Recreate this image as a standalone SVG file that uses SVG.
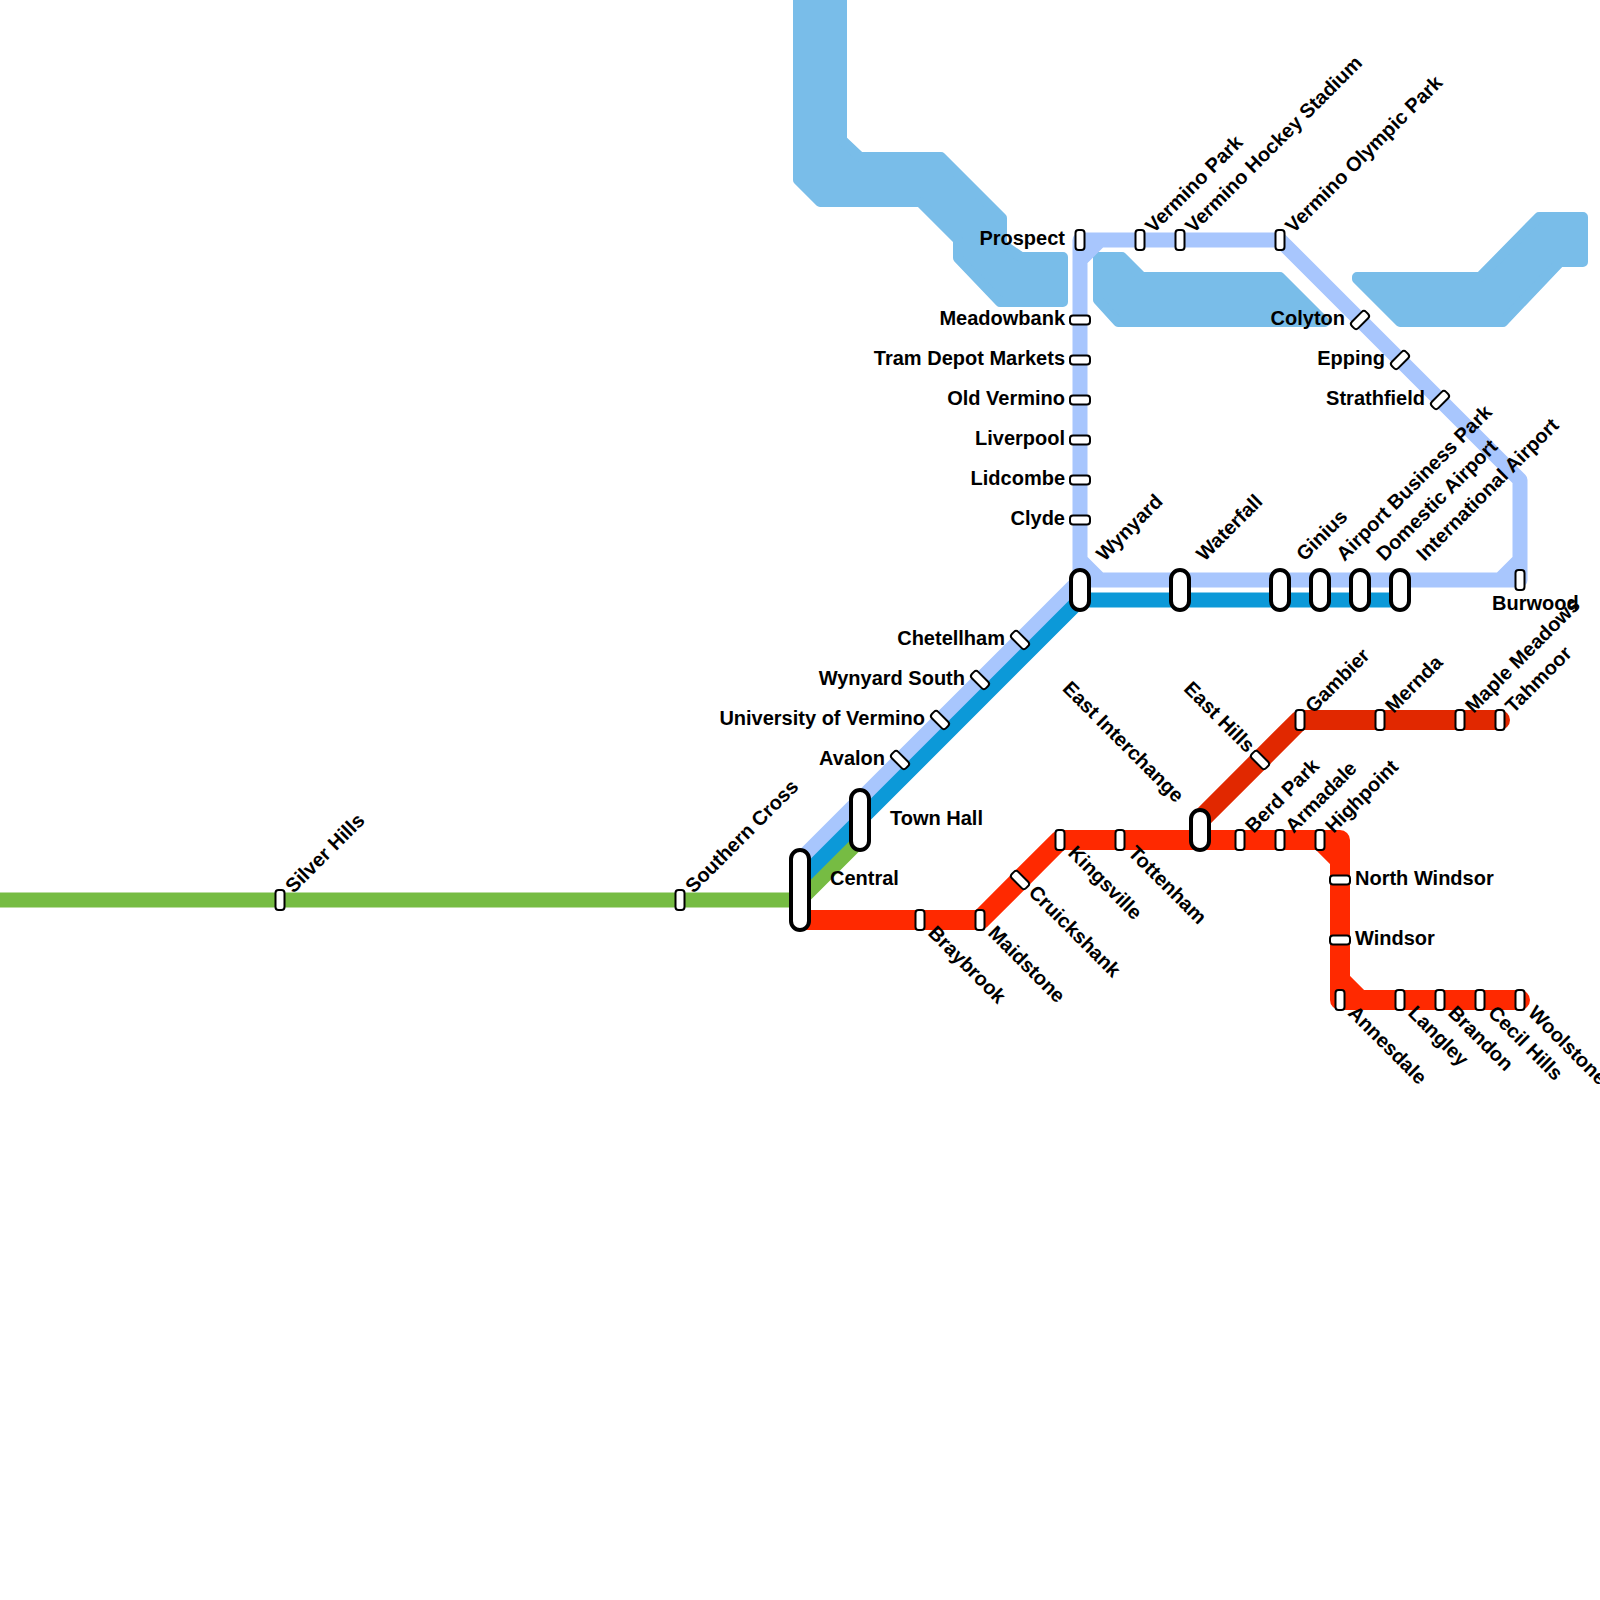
<svg xmlns="http://www.w3.org/2000/svg" width="1600" height="1600" viewBox="0 0 1600 1600">
<style>
text{font-family:"Liberation Sans",Arial,sans-serif;font-weight:bold;font-size:20px;fill:#000}
.e{text-anchor:end}
.l{fill:none;stroke-linecap:round;stroke-linejoin:round}
.water{fill:#79bde9;stroke:#79bde9;stroke-width:10;stroke-linejoin:round}
.lb{stroke:#a8c6fd;stroke-width:15}
.db{stroke:#0c99d8;stroke-width:15}
.gr{stroke:#76bc43;stroke-width:15}
.rd{stroke:#ff2900;stroke-width:20}
.dr{stroke:#e12800;stroke-width:20}
.s{fill:#fff;stroke:#000;stroke-width:2}
.x{fill:#fff;stroke:#000;stroke-width:4}
</style>
<defs>
<rect id="st" class="s" x="-4.5" y="-10" width="9" height="20" rx="3"/>
</defs>
<g id="water">
<polygon class="water" points="798,-5 842,-5 842,140 860,157 941,157 1002,218 1002,244 1021,257 1063,257 1063,302 1000,302 958,258 958,240 920,202 820,202 798,180"/>
<polygon class="water" points="1098,257 1122,257 1142,277 1280,277 1325,322 1118,322 1098,300"/>
<polygon class="water" points="1357,277 1480,277 1539,217 1583,217 1583,262 1560,262 1503,322 1400,322 1357,279"/>
</g>
<g id="connectors">
<path class="l gr" d="M-10,900H800L860,840"/>
<path class="l lb" d="M800,860L1080,580H1520V480L1280,240H1080V580M1080,560L1100,580M1500,580L1520,560M1100,240L1080,260"/>
<path class="l db" d="M800,880L1080,600H1400"/>
<path class="l rd" d="M800,920H980L1060,840H1340V1000H1520M1320,840L1340,860M1340,980L1360,1000"/>
<path class="l dr" d="M1200,820L1300,720H1500"/>
</g>
<g id="n-silver-hills"><use href="#st" x="280" y="900"/><text transform="translate(293.5 894) rotate(-45)">Silver Hills</text></g>
<g id="n-southern-cross"><use href="#st" x="680" y="900"/><text transform="translate(693.5 894) rotate(-45)">Southern Cross</text></g>
<g id="n-central"><rect class="x" x="791" y="850" width="18" height="80" rx="9"/><text x="830" y="885">Central</text></g>
<g id="n-town-hall"><rect class="x" x="851" y="790" width="18" height="60" rx="9"/><text x="890" y="825">Town Hall</text></g>
<g id="n-avalon"><use href="#st" transform="translate(900 760) rotate(-45)"/><text class="e" x="885" y="765">Avalon</text></g>
<g id="n-university"><use href="#st" transform="translate(940 720) rotate(-45)"/><text class="e" x="925" y="725">University of Vermino</text></g>
<g id="n-wynyard-south"><use href="#st" transform="translate(980 680) rotate(-45)"/><text class="e" x="965" y="685">Wynyard South</text></g>
<g id="n-chetellham"><use href="#st" transform="translate(1020 640) rotate(-45)"/><text class="e" x="1005" y="645">Chetellham</text></g>
<g id="n-wynyard"><rect class="x" x="1071" y="570" width="18" height="40" rx="9"/><text transform="translate(1104.5 562) rotate(-45)">Wynyard</text></g>
<g id="n-waterfall"><rect class="x" x="1171" y="570" width="18" height="40" rx="9"/><text transform="translate(1204.5 562) rotate(-45)">Waterfall</text></g>
<g id="n-ginius"><rect class="x" x="1271" y="570" width="18" height="40" rx="9"/><text transform="translate(1304.5 562) rotate(-45)">Ginius</text></g>
<g id="n-airport-business-park"><rect class="x" x="1311" y="570" width="18" height="40" rx="9"/><text transform="translate(1344.5 562) rotate(-45)">Airport Business Park</text></g>
<g id="n-domestic-airport"><rect class="x" x="1351" y="570" width="18" height="40" rx="9"/><text transform="translate(1384.5 562) rotate(-45)">Domestic Airport</text></g>
<g id="n-international-airport"><rect class="x" x="1391" y="570" width="18" height="40" rx="9"/><text transform="translate(1424.5 562) rotate(-45)">International Airport</text></g>
<g id="n-burwood"><use href="#st" x="1520" y="580"/><text x="1492" y="610">Burwood</text></g>
<g id="n-clyde"><use href="#st" transform="translate(1080 520) rotate(90)"/><text class="e" x="1065" y="525">Clyde</text></g>
<g id="n-lidcombe"><use href="#st" transform="translate(1080 480) rotate(90)"/><text class="e" x="1065" y="485">Lidcombe</text></g>
<g id="n-liverpool"><use href="#st" transform="translate(1080 440) rotate(90)"/><text class="e" x="1065" y="445">Liverpool</text></g>
<g id="n-old-vermino"><use href="#st" transform="translate(1080 400) rotate(90)"/><text class="e" x="1065" y="405">Old Vermino</text></g>
<g id="n-tram-depot"><use href="#st" transform="translate(1080 360) rotate(90)"/><text class="e" x="1065" y="365">Tram Depot Markets</text></g>
<g id="n-meadowbank"><use href="#st" transform="translate(1080 320) rotate(90)"/><text class="e" x="1065" y="325">Meadowbank</text></g>
<g id="n-prospect"><use href="#st" x="1080" y="240"/><text class="e" x="1065" y="245">Prospect</text></g>
<g id="n-vermino-park"><use href="#st" x="1140" y="240"/><text transform="translate(1153.5 234) rotate(-45)">Vermino Park</text></g>
<g id="n-vermino-hockey"><use href="#st" x="1180" y="240"/><text transform="translate(1193.5 234) rotate(-45)">Vermino Hockey Stadium</text></g>
<g id="n-vermino-olympic"><use href="#st" x="1280" y="240"/><text transform="translate(1293.5 234) rotate(-45)">Vermino Olympic Park</text></g>
<g id="n-colyton"><use href="#st" transform="translate(1360 320) rotate(45)"/><text class="e" x="1345" y="325">Colyton</text></g>
<g id="n-epping"><use href="#st" transform="translate(1400 360) rotate(45)"/><text class="e" x="1385" y="365">Epping</text></g>
<g id="n-strathfield"><use href="#st" transform="translate(1440 400) rotate(45)"/><text class="e" x="1425" y="405">Strathfield</text></g>
<g id="n-braybrook"><use href="#st" x="920" y="920"/><text transform="translate(927 934) rotate(45)">Braybrook</text></g>
<g id="n-maidstone"><use href="#st" x="980" y="920"/><text transform="translate(987 934) rotate(45)">Maidstone</text></g>
<g id="n-cruickshank"><use href="#st" transform="translate(1020 880) rotate(-45)"/><text transform="translate(1027.5 893.5) rotate(45)">Cruickshank</text></g>
<g id="n-kingsville"><use href="#st" x="1060" y="840"/><text transform="translate(1067 854) rotate(45)">Kingsville</text></g>
<g id="n-tottenham"><use href="#st" x="1120" y="840"/><text transform="translate(1127 854) rotate(45)">Tottenham</text></g>
<g id="n-east-interchange"><rect class="x" x="1191" y="810" width="18" height="40" rx="9"/><text class="e" transform="translate(1175.5 803.5) rotate(45)">East Interchange</text></g>
<g id="n-east-hills"><use href="#st" transform="translate(1260 760) rotate(-45)"/><text class="e" transform="translate(1246.5 753.5) rotate(45)">East Hills</text></g>
<g id="n-gambier"><use href="#st" x="1300" y="720"/><text transform="translate(1313.5 714) rotate(-45)">Gambier</text></g>
<g id="n-mernda"><use href="#st" x="1380" y="720"/><text transform="translate(1393.5 714) rotate(-45)">Mernda</text></g>
<g id="n-maple-meadows"><use href="#st" x="1460" y="720"/><text transform="translate(1473.5 714) rotate(-45)">Maple Meadows</text></g>
<g id="n-tahmoor"><use href="#st" x="1500" y="720"/><text transform="translate(1513.5 714) rotate(-45)">Tahmoor</text></g>
<g id="n-berd-park"><use href="#st" x="1240" y="840"/><text transform="translate(1253.5 834) rotate(-45)">Berd Park</text></g>
<g id="n-armadale"><use href="#st" x="1280" y="840"/><text transform="translate(1293.5 834) rotate(-45)">Armadale</text></g>
<g id="n-highpoint"><use href="#st" x="1320" y="840"/><text transform="translate(1333.5 834) rotate(-45)">Highpoint</text></g>
<g id="n-north-windsor"><use href="#st" transform="translate(1340 880) rotate(90)"/><text x="1355" y="885">North Windsor</text></g>
<g id="n-windsor"><use href="#st" transform="translate(1340 940) rotate(90)"/><text x="1355" y="945">Windsor</text></g>
<g id="n-annesdale"><use href="#st" x="1340" y="1000"/><text transform="translate(1347 1014) rotate(45)">Annesdale</text></g>
<g id="n-langley"><use href="#st" x="1400" y="1000"/><text transform="translate(1407 1014) rotate(45)">Langley</text></g>
<g id="n-brandon"><use href="#st" x="1440" y="1000"/><text transform="translate(1447 1014) rotate(45)">Brandon</text></g>
<g id="n-cecil-hills"><use href="#st" x="1480" y="1000"/><text transform="translate(1487 1014) rotate(45)">Cecil Hills</text></g>
<g id="n-woolstone"><use href="#st" x="1520" y="1000"/><text transform="translate(1527 1014) rotate(45)">Woolstone</text></g>
</svg>
